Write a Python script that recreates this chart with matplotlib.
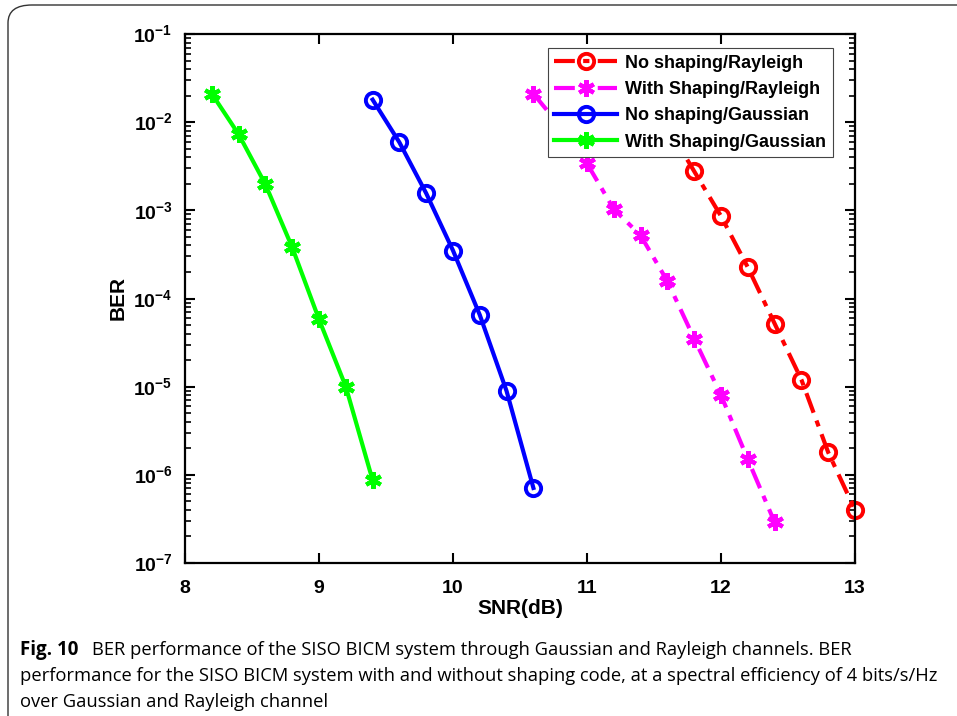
import numpy as np
import matplotlib
matplotlib.use("Agg")
import matplotlib.pyplot as plt
from matplotlib.patches import FancyBboxPatch
from matplotlib.ticker import LogLocator, FixedLocator

# ------------------------------------------------------------
# DATA
# ------------------------------------------------------------

snr_ns_ray = [11.4, 11.6, 11.8, 12.0, 12.2, 12.4, 12.6, 12.8, 13.0]
ber_ns_ray = [2.6e-2, 9.0e-3, 2.77e-3, 8.6e-4, 2.26e-4, 5.2e-5, 1.2e-5, 1.8e-6, 4.0e-7]

snr_ws_ray = [10.6, 10.8, 11.0, 11.2, 11.4, 11.6, 11.8, 12.0, 12.2, 12.4]
ber_ws_ray = [2.1e-2, 9.0e-3, 3.4e-3, 1.03e-3, 5.2e-4, 1.57e-4, 3.5e-5, 8.0e-6, 1.5e-6, 2.9e-7]

snr_ns_gau = [9.4, 9.6, 9.8, 10.0, 10.2, 10.4, 10.6]
ber_ns_gau = [1.8e-2, 5.9e-3, 1.56e-3, 3.5e-4, 6.5e-5, 8.9e-6, 7.1e-7]

snr_ws_gau = [8.2, 8.4, 8.6, 8.8, 9.0, 9.2, 9.4]
ber_ws_gau = [2.1e-2, 7.3e-3, 1.97e-3, 3.8e-4, 5.8e-5, 1.0e-5, 8.7e-7]

labels = ["No shaping/Rayleigh", "With Shaping/Rayleigh",
          "No shaping/Gaussian", "With Shaping/Gaussian"]

x_ticks = [8, 9, 10, 11, 12, 13]
y_exps = [-7, -6, -5, -4, -3, -2, -1]

caption_1 = "BER performance of the SISO BICM system through Gaussian and Rayleigh channels. BER"
caption_2 = "performance for the SISO BICM system with and without shaping code, at a spectral efficiency of 4 bits/s/Hz"
caption_3 = "over Gaussian and Rayleigh channel"

# ------------------------------------------------------------
# STYLE
# ------------------------------------------------------------

plt.rcParams["font.family"] = ["Liberation Sans", "DejaVu Sans"]
plt.rcParams["mathtext.fontset"] = "custom"
plt.rcParams["mathtext.rm"] = "Liberation Sans:bold"
plt.rcParams["mathtext.bf"] = "Liberation Sans:bold"

ASTER = (6, 2, 0)
DASHDOT = (5, 2, 1.5, 2)

fig = plt.figure(figsize=(9.57, 7.16), dpi=100)
ax = fig.add_axes([185 / 957, 1 - 563 / 716, (855 - 185) / 957, (563 - 34) / 716])

ax.plot(snr_ns_ray, ber_ns_ray, color="red", ls="-.", lw=3, marker="o",
        ms=11, mfc="none", mew=2.8, label=labels[0], dashes=DASHDOT, clip_on=False)
ax.plot(snr_ws_ray, ber_ws_ray, color="magenta", ls="-.", lw=3, marker=ASTER,
        ms=12, mew=3, label=labels[1], dashes=DASHDOT)
ax.plot(snr_ns_gau, ber_ns_gau, color="blue", ls="-", lw=3, marker="o",
        ms=11, mfc="none", mew=2.8, label=labels[2])
ax.plot(snr_ws_gau, ber_ws_gau, color="#00ff00", ls="-", lw=3, marker=ASTER,
        ms=12, mew=3, label=labels[3])

ax.set_yscale("log")
ax.set_xlim(8, 13)
ax.set_ylim(1e-7, 1e-1)
ax.xaxis.set_major_locator(FixedLocator(x_ticks))
ax.set_xticklabels([str(t) for t in x_ticks], fontweight="bold")
ax.yaxis.set_major_locator(FixedLocator([10.0 ** e for e in y_exps]))
ax.set_yticklabels([r"$10^{%d}$" % e for e in y_exps])
ax.yaxis.set_minor_locator(LogLocator(base=10, subs=np.arange(2, 10)))
ax.yaxis.set_minor_formatter(plt.NullFormatter())

ax.tick_params(axis="both", which="major", direction="in", length=7, width=1.5,
               labelsize=14, top=True, right=True, pad=9)
ax.tick_params(axis="x", which="major", pad=12)
ax.tick_params(axis="y", which="minor", direction="in", length=4, width=1.2,
               right=True)
for s in ax.spines.values():
    s.set_linewidth(1.6)

ax.set_xlabel("SNR(dB)", fontsize=15, fontweight="bold", labelpad=2)
ax.set_ylabel("BER", fontsize=15, fontweight="bold", labelpad=4)

leg = ax.legend(loc="upper right", bbox_to_anchor=(0.98, 0.99),
                prop={"weight": "bold", "size": 13}, handlelength=3.5,
                fancybox=False, framealpha=1, edgecolor="#444444",
                borderpad=0.35, labelspacing=0.52, handletextpad=0.45)
leg.get_frame().set_linewidth(0.8)

# ------------------------------------------------------------
# BORDER + CAPTION
# ------------------------------------------------------------

border = FancyBboxPatch((8 / 957, -0.2), 1.2, 1.2 - 5 / 716,
                        boxstyle="round,pad=0,rounding_size=0.025",
                        transform=fig.transFigure, fill=False,
                        edgecolor="#333333", linewidth=1.0, clip_on=False)
fig.add_artist(border)

cap_font = ["Open Sans", "DejaVu Sans"]
fig.text(20 / 957, 1 - 650 / 716, "Fig. 10", family=cap_font,
         fontsize=13.5, fontweight="bold", va="center", ha="left")
fig.text(92 / 957, 1 - 650 / 716, caption_1, family=cap_font,
         fontsize=13.2, va="center", ha="left")
fig.text(20 / 957, 1 - 676 / 716, caption_2, family=cap_font,
         fontsize=13.2, va="center", ha="left")
fig.text(20 / 957, 1 - 702 / 716, caption_3, family=cap_font,
         fontsize=13.2, va="center", ha="left")

fig.savefig("out.png", dpi=100)
